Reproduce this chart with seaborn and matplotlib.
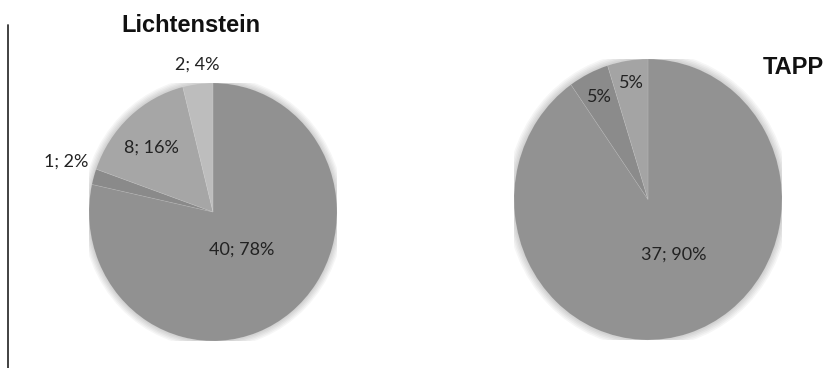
import matplotlib
matplotlib.use("Agg")
import matplotlib.pyplot as plt
from matplotlib.lines import Line2D
from matplotlib.patches import Ellipse
import seaborn as sns

sns.set_theme(style="white")
plt.rcParams["font.family"] = ["Lato", "DejaVu Sans"]

# Lichtenstein: counts per category (clockwise from 12 o'clock)
licht_counts = [40, 1, 8, 2]
licht_pcts = [78, 2, 16, 4]
licht_colors = ["#919191", "#8a8a8a", "#a6a6a6", "#bdbdbd"]

# TAPP: counts per category
tapp_counts = [37, 2, 2]
tapp_pcts = [90, 5, 5]
tapp_colors = ["#929292", "#8b8b8b", "#a4a4a4"]

W, H = 825, 368
fig = plt.figure(figsize=(W / 100, H / 100), dpi=100)
fig.patch.set_facecolor("white")


def pie_axes(x0, y0, x1, y1):
    ax = fig.add_axes([x0 / W, 1 - y1 / H, (x1 - x0) / W, (y1 - y0) / H])
    return ax


def draw_pie(ax, counts, colors):
    # soft halo around the disc
    for k in range(5, 0, -1):
        s = 2 * (1 + 0.011 * k)
        ax.add_patch(Ellipse((0, 0), s, s, color="#000000", alpha=0.035, lw=0, zorder=0))
    ax.pie(counts, colors=colors, startangle=90, counterclock=False,
           radius=1, wedgeprops=dict(linewidth=0.5, edgecolor=(1, 1, 1, 0.15)))
    ax.set_aspect("auto")
    ax.set_xlim(-1, 1)
    ax.set_ylim(-1, 1)
    ax.axis("off")


label_style = dict(fontsize=13, color="#222222", ha="center", va="center")

# left pie
ax1 = pie_axes(89, 83, 337, 341)
draw_pie(ax1, licht_counts, licht_colors)
licht_pos = [(0.23, -0.29), (-1.18, 0.39), (-0.50, 0.50), (-0.13, 1.14)]
for (x, y), c, p in zip(licht_pos, licht_counts, licht_pcts):
    ax1.text(x, y, f"{c}; {p}%", **label_style)

# right pie
ax2 = pie_axes(514, 59, 782, 340)
draw_pie(ax2, tapp_counts, tapp_colors)
tapp_pos = [(0.19, -0.39), (-0.36, 0.73), (-0.12, 0.83)]
tapp_texts = [f"{tapp_counts[0]}; {tapp_pcts[0]}%", f"{tapp_pcts[1]}%", f"{tapp_pcts[2]}%"]
for (x, y), t in zip(tapp_pos, tapp_texts):
    ax2.text(x, y, t, **label_style)

# titles
title_style = dict(fontsize=17, fontweight="bold", color="#111111",
                   family=["Liberation Sans", "DejaVu Sans"])
fig.text(191 / W, 1 - 25 / H, "Lichtenstein", ha="center", va="center", **title_style)
fig.text(763 / W, 1 - 67 / H, "TAPP", ha="left", va="center", **title_style)

# left border rule
fig.add_artist(Line2D([7.5 / W, 7.5 / W], [0, 1 - 25 / H], color="#333333", lw=1.3))

fig.savefig("out.png", dpi=100, facecolor="white")
